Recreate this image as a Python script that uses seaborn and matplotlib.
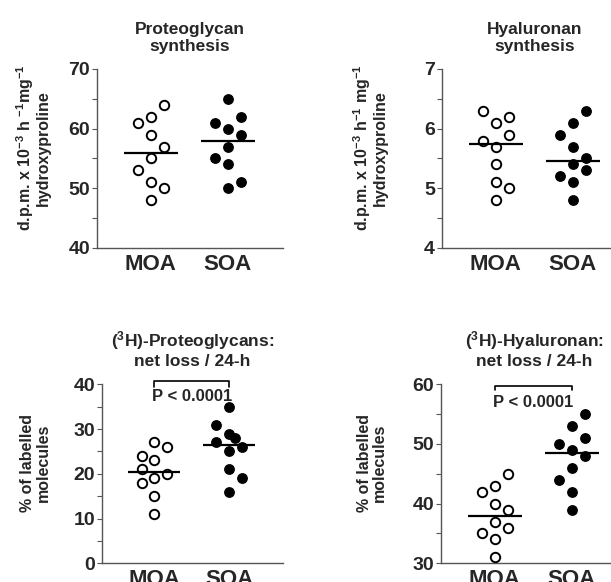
import numpy as np
import pandas as pd
import matplotlib
matplotlib.use("Agg")
import matplotlib.pyplot as plt
import seaborn as sns
from matplotlib.ticker import MultipleLocator

groups = ["MOA", "SOA"]

# values, with the lane (-1 left, 0 centre, 1 right) of each dot
pg_syn_moa = [64, 62, 61, 59, 57, 55, 53, 51, 50, 48]
pg_syn_moa_lane = [1, 0, -1, 0, 1, 0, -1, 0, 1, 0]
pg_syn_soa = [65, 62, 61, 60, 59, 57, 55, 54, 51, 50]
pg_syn_soa_lane = [0, 1, -1, 0, 1, 0, -1, 0, 1, 0]

ha_syn_moa = [6.3, 6.2, 6.1, 5.9, 5.8, 5.7, 5.4, 5.1, 5.0, 4.8]
ha_syn_moa_lane = [-1, 1, 0, 1, -1, 0, 0, 0, 1, 0]
ha_syn_soa = [6.3, 6.1, 5.9, 5.7, 5.5, 5.4, 5.3, 5.2, 5.1, 4.8]
ha_syn_soa_lane = [1, 0, -1, 0, 1, 0, 1, -1, 0, 0]

pg_loss_moa = [27, 26, 24, 23, 21, 20, 19, 18, 15, 11]
pg_loss_moa_lane = [0, 1, -1, 0, -1, 1, 0, -1, 0, 0]
pg_loss_soa = [35, 31, 29, 28, 27, 26, 25, 21, 19, 16]
pg_loss_soa_lane = [0, -1, 0, 0.5, -1, 1, 0, 0, 1, 0]

ha_loss_moa = [45, 43, 42, 40, 39, 37, 36, 35, 34, 31]
ha_loss_moa_lane = [1, 0, -1, 0, 1, 0, 1, -1, 0, 0]
ha_loss_soa = [55, 53, 51, 50, 49, 48, 46, 44, 42, 39]
ha_loss_soa_lane = [1, 0, 1, -1, 0, 1, 0, -1, 0, 0]

titles = ["Proteoglycan\nsynthesis", "Hyaluronan\nsynthesis",
          "($^{3}$H)-Proteoglycans:\nnet loss / 24-h",
          "($^{3}$H)-Hyaluronan:\nnet loss / 24-h"]
ylabels = ["d.p.m. x 10$^{-3}$ h $^{-1}$mg$^{-1}$\nhydroxyproline",
           "d.p.m. x 10$^{-3}$ h$^{-1}$ mg$^{-1}$\nhydroxyproline",
           "% of labelled\nmolecules",
           "% of labelled\nmolecules"]
ylims = [(40, 70), (4, 7), (0, 40), (30, 60)]
ysteps = [10, 1, 10, 10]
pvalue = [None, None, "P < 0.0001", "P < 0.0001"]

sns.set_style("ticks")
plt.rcParams["font.family"] = ["Liberation Sans", "DejaVu Sans"]
plt.rcParams["font.weight"] = "bold"
plt.rcParams["mathtext.default"] = "regular"

fig = plt.figure(figsize=(6.11, 5.82), dpi=100)
rects = [[0.1588, 0.5739, 0.3044, 0.3076],
         [0.7234, 0.5739, 0.3044, 0.3076],
         [0.1669, 0.0321, 0.2962, 0.3076],
         [0.7218, 0.0321, 0.3044, 0.3076]]
# bracket y, tick end, text baseline per bottom panel
brackets = [None, None, (40.74, 39.46, 36.3), (59.7, 59.05, 56.25)]
lane_w = 0.17

series = [(pg_syn_moa, pg_syn_moa_lane, pg_syn_soa, pg_syn_soa_lane),
          (ha_syn_moa, ha_syn_moa_lane, ha_syn_soa, ha_syn_soa_lane),
          (pg_loss_moa, pg_loss_moa_lane, pg_loss_soa, pg_loss_soa_lane),
          (ha_loss_moa, ha_loss_moa_lane, ha_loss_soa, ha_loss_soa_lane)]

for i, (moa, moa_lane, soa, soa_lane) in enumerate(series):
    ax = fig.add_axes(rects[i])
    df = pd.DataFrame({"group": ["MOA"] * len(moa) + ["SOA"] * len(soa),
                       "value": moa + soa,
                       "lane": moa_lane + soa_lane})
    df["pos"] = df["group"].map({g: k for k, g in enumerate(groups)}) + df["lane"] * lane_w

    sns.scatterplot(data=df[df.group == "MOA"], x="pos", y="value", s=46,
                    color="white", edgecolor="black", linewidth=1.4, ax=ax, zorder=3)
    sns.scatterplot(data=df[df.group == "SOA"], x="pos", y="value", s=46,
                    color="black", edgecolor="black", linewidth=1.0, ax=ax, zorder=3)
    meds = df.groupby("group")["value"].median()
    for j, g in enumerate(groups):
        ax.hlines(meds[g], j - 0.35, j + 0.35, color="black", lw=1.6, zorder=5)

    ax.set_xlim(-0.7, 1.72)
    ax.set_ylim(*ylims[i])
    ax.set_xticks(range(len(groups)))
    ax.set_xticklabels(groups)
    ax.yaxis.set_major_locator(MultipleLocator(ysteps[i]))
    ax.yaxis.set_minor_locator(MultipleLocator(ysteps[i] / 2))
    sns.despine(ax=ax)
    for s in ["left", "bottom"]:
        ax.spines[s].set_color("#555555")
        ax.spines[s].set_linewidth(1.0)
    ax.tick_params(axis="y", which="both", direction="out", length=3.5, width=0.8,
                   color="#555555", pad=1.5, labelsize=14)
    ax.tick_params(axis="x", length=0, pad=4, labelsize=16)
    ax.set_xlabel("")
    ax.set_ylabel(ylabels[i], fontsize=11.5, fontweight="bold", linespacing=1.0)
    ax.yaxis.set_label_coords(-0.25 if i == 0 else (-0.285 if i == 2 else -0.29), 0.56)
    ax.text(0.5, 1.1, titles[i], transform=ax.transAxes, ha="center", va="baseline",
            fontsize=12.5, fontweight="bold", linespacing=1.2)

    if pvalue[i]:
        by, ty, tb = brackets[i]
        ax.plot([0, 0, 1, 1], [ty, by, by, ty], color="black", lw=1.2, clip_on=False)
        ax.text(0.5, tb, pvalue[i], ha="center", va="baseline", fontsize=12,
                fontweight="bold")

fig.savefig("out.png", dpi=100)
